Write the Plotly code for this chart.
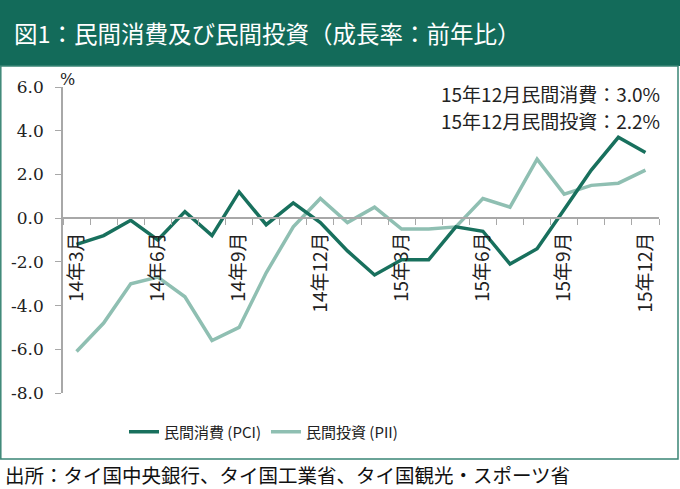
import plotly.graph_objects as go

months = [f"14年{m}月" for m in range(3, 13)] + [f"15年{m}月" for m in range(1, 13)]
shown_labels = ["14年3月", "14年6月", "14年9月", "14年12月", "15年3月", "15年6月", "15年9月", "15年12月"]
pci = [-1.2, -0.8, -0.1, -1.0, 0.3, -0.8, 1.2, -0.3, 0.7, -0.2, -1.5, -2.6,
       -1.9, -1.9, -0.4, -0.6, -2.1, -1.4, 0.4, 2.2, 3.7, 3.0]
pii = [-6.1, -4.8, -3.0, -2.7, -3.6, -5.6, -5.0, -2.5, -0.4, 0.9, -0.2, 0.5,
       -0.5, -0.5, -0.4, 0.9, 0.5, 2.7, 1.1, 1.5, 1.6, 2.2]
y_ticks = [-8, -6, -4, -2, 0, 2, 4, 6]
y_ticktext = ["-8.0", "-6.0", "-4.0", "-2.0", "0.0", "2.0", "4.0", "6.0"]

W, H = 680, 489
CJK = "Noto Sans CJK JP"
SERIF = "DejaVu Serif"
C_PCI = "#18705d"
C_PII = "#8fbfb2"
C_BAR = "#136b5a"
AXC = "#a8a8a8"

x0, x1 = 63 / W, 659 / W
yd0, yd1 = (H - 393) / H, (H - 87) / H
ymin, ymax = -8, 6
xpos = yd0 + (yd1 - yd0) * (0 - ymin) / (ymax - ymin)

fig = go.Figure()
fig.add_trace(go.Scatter(x=months, y=pii, mode="lines", name="民間投資 (PII)",
                         line=dict(color=C_PII, width=3.5), legendrank=2))
fig.add_trace(go.Scatter(x=months, y=pci, mode="lines", name="民間消費 (PCI)",
                         line=dict(color=C_PCI, width=3.5), legendrank=1))

fig.update_layout(
    width=W, height=H,
    margin=dict(l=0, r=0, t=0, b=0),
    paper_bgcolor="white", plot_bgcolor="white",
    showlegend=True,
    legend=dict(orientation="h", x=124 / W, xanchor="left", y=(H - 432) / H, yanchor="middle",
                font=dict(family=CJK, size=15, color="#222"), itemwidth=30,
                bgcolor="rgba(0,0,0,0)"),
    xaxis=dict(domain=[x0, x1], anchor="free", position=xpos,
               type="category", categoryorder="array", categoryarray=months,
               range=[-0.5, len(months) - 0.5],
               tickmode="array", tickvals=months,
               ticktext=[m if m in shown_labels else "" for m in months],
               tickangle=-90, tickson="boundaries", ticks="outside", ticklen=6,
               tickcolor=AXC, tickwidth=1.2,
               showline=True, linecolor=AXC, linewidth=1.5, showgrid=False, zeroline=False,
               tickfont=dict(family=CJK, size=19, color="#222"), automargin=False,
               ticklabelstandoff=6),
    yaxis=dict(domain=[yd0, yd1], range=[ymin, ymax], anchor="x",
               tickmode="array", tickvals=y_ticks, ticktext=y_ticktext,
               ticks="outside", ticklen=6, tickcolor=AXC, tickwidth=1.2,
               showline=True, linecolor=AXC, linewidth=1.5, showgrid=False, zeroline=False,
               tickfont=dict(family=SERIF, size=17, color="#222"),
               automargin=False, ticklabelstandoff=8),
)

shapes = [
    dict(type="rect", xref="paper", yref="paper", x0=0, x1=1, y0=(H - 66) / H, y1=1,
         fillcolor=C_BAR, line=dict(width=0), layer="below"),
    dict(type="rect", xref="paper", yref="paper", x0=0.8 / W, x1=678 / W,
         y0=(H - 459) / H, y1=(H - 66) / H,
         fillcolor="rgba(0,0,0,0)", line=dict(color="#3a8575", width=1.5), layer="below"),
]
fig.update_layout(shapes=shapes)

annotations = [
    dict(text="図1：民間消費及び民間投資（成長率：前年比）", xref="paper", yref="paper",
         x=12 / W, y=(H - 33) / H, xanchor="left", yanchor="middle", showarrow=False,
         font=dict(family=CJK, size=23.5, color="white")),
    dict(text="%", xref="paper", yref="paper", x=67 / W, y=(H - 80) / H,
         xanchor="center", yanchor="middle", showarrow=False,
         font=dict(family=SERIF, size=16, color="#222")),
    dict(text="15年12月民間消費：3.0%", xref="paper", yref="paper",
         x=662 / W, y=(H - 94) / H, xanchor="right", yanchor="middle", showarrow=False,
         font=dict(family=CJK, size=19, color="#222")),
    dict(text="15年12月民間投資：2.2%", xref="paper", yref="paper",
         x=662 / W, y=(H - 121) / H, xanchor="right", yanchor="middle", showarrow=False,
         font=dict(family=CJK, size=19, color="#222")),
    dict(text="出所：タイ国中央銀行、タイ国工業省、タイ国観光・スポーツ省", xref="paper", yref="paper",
         x=3 / W, y=(H - 474) / H, xanchor="left", yanchor="middle", showarrow=False,
         font=dict(family=CJK, size=19.5, color="#111")),
]
fig.update_layout(annotations=annotations)

fig.write_html("out.html")
